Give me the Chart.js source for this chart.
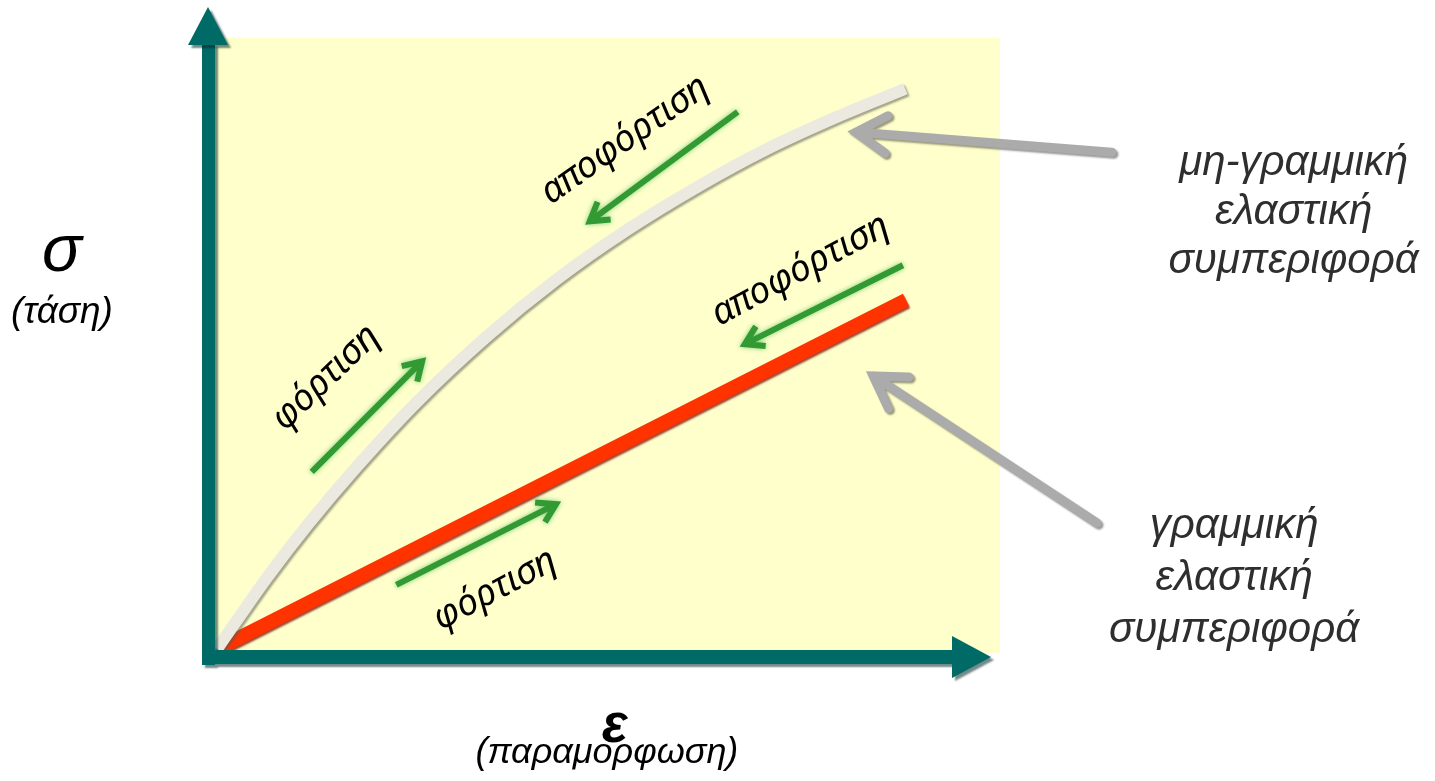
<!DOCTYPE html>
<html><head><meta charset="utf-8">
<script src="https://cdn.jsdelivr.net/npm/chart.js@4.4.1/dist/chart.umd.min.js"></script>
<style>html,body{margin:0;padding:0;background:#fff;overflow:hidden}#wrap{position:relative;width:1435px;height:781px}</style>
</head><body><div id="wrap"><canvas id="c" width="1435" height="781"></canvas></div>
<script>
// ---- data (strain ε vs stress σ, arbitrary units 0..100) ----
const strainNonlinear = [0, 2.6, 6.4, 11.5, 17.9, 25.5, 34.5, 43.4, 52.4, 61.3, 70.2, 79.2, 87.9];
const stressNonlinear = [0, 4.8, 11.7, 20.2, 29.9, 40.4, 51.2, 60.5, 68.6, 75.6, 81.8, 87.1, 91.7];
const strainLinear = [0, 88.0];
const stressLinear = [0, 57.1];
const xRange = [0, 100];
const yRange = [0, 100];
// annotations in data units: [tailX, tailY, tipX, tipY]
const greenArrows = [[12.1, 29.0, 26.2, 47.1], [66.5, 87.9, 47.6, 70.0], [87.6, 62.8, 67.4, 49.9], [22.9, 10.5, 43.3, 23.7]];
const grayArrows = [[114.3, 81.3, 81.6, 84.6], [112.4, 20.6, 83.8, 44.7]];
const curveLabels = ['αποφόρτιση', 'αποφόρτιση', 'φόρτιση', 'φόρτιση'];
const curveLabelPos = [[52.1, 83.3, -35], [74.5, 62.0, -28.5], [13.9, 44.4, -44], [35.5, 9.7, -28]];
const nonlinearLabel = ['μη-γραμμική', 'ελαστική', 'συμπεριφορά'];
const nonlinearLabelPos = [137.5, [79.5, 71.4, 63.5]];
const linearLabel = ['γραμμική', 'ελαστική', 'συμπεριφορά'];
const linearLabelPos = [129.9, [20.0, 11.6, 3.1]];
const yAxisTitle = ['σ', '(τάση)'];
const yAxisTitlePos = [-19.8, [64.8, 55.0]];
const xAxisTitle = ['ε', '(παραμορφωση)'];
const xAxisTitlePos = [49.8, [-12.8, -17.1]];

function drawArrow(ctx, x1, y1, x2, y2, head, spread) {
  const a = Math.atan2(y2 - y1, x2 - x1);
  ctx.beginPath();
  ctx.moveTo(x1, y1); ctx.lineTo(x2, y2);
  ctx.moveTo(x2 - head * Math.cos(a - spread), y2 - head * Math.sin(a - spread));
  ctx.lineTo(x2, y2);
  ctx.lineTo(x2 - head * Math.cos(a + spread), y2 - head * Math.sin(a + spread));
  ctx.stroke();
}

const dsShadow = [
  {c: 'rgba(90,90,80,0.55)', x: 2, y: 2, b: 2},
  {c: 'rgba(120,10,0,0.75)', x: 1, y: 2, b: 2}
];

const deco = {
  id: 'deco',
  beforeDraw(chart) {
    const {ctx, chartArea: a} = chart;
    ctx.save();
    ctx.fillStyle = '#FFFFCC';
    ctx.fillRect(a.left - 7, a.top, a.right - a.left + 7, a.bottom - a.top + 4);
    ctx.restore();
  },
  beforeDatasetDraw(chart, args) {
    const ctx = chart.ctx; ctx.save();
    const s = dsShadow[args.index];
    ctx.shadowColor = s.c; ctx.shadowOffsetX = s.x; ctx.shadowOffsetY = s.y; ctx.shadowBlur = s.b;
  },
  afterDatasetDraw(chart) { chart.ctx.restore(); },
  afterDatasetsDraw(chart) {
    const {ctx, chartArea: a, scales: {x, y}} = chart;
    const L = a.left, B = a.bottom, T = a.top, R = a.right;
    // axes with arrow heads
    ctx.save();
    ctx.shadowColor = 'rgba(0,40,40,0.55)'; ctx.shadowOffsetX = 3; ctx.shadowOffsetY = 3; ctx.shadowBlur = 2;
    ctx.fillStyle = '#006A66';
    ctx.beginPath();
    ctx.rect(L - 15, T + 6, 13, B + 16 - (T + 6));
    ctx.rect(L - 15, B + 1, (R - 48) - (L - 15), 14);
    ctx.fill();
    ctx.beginPath();
    ctx.moveTo(L - 9, T - 31); ctx.lineTo(L + 11, T + 7); ctx.lineTo(L - 29, T + 7); ctx.closePath();
    ctx.fill();
    ctx.beginPath();
    ctx.moveTo(R - 48, B - 13); ctx.lineTo(R - 9, B + 8); ctx.lineTo(R - 48, B + 29); ctx.closePath();
    ctx.fill();
    ctx.restore();

    // green arrows
    ctx.save();
    ctx.strokeStyle = '#339933'; ctx.lineWidth = 6; ctx.lineCap = 'butt'; ctx.lineJoin = 'miter';
    ctx.shadowColor = 'rgba(110,200,110,0.9)'; ctx.shadowBlur = 5;
    greenArrows.forEach(g => drawArrow(ctx, x.getPixelForValue(g[0]), y.getPixelForValue(g[1]), x.getPixelForValue(g[2]), y.getPixelForValue(g[3]), 21, 0.55));
    ctx.restore();

    // gray arrows
    ctx.save();
    ctx.strokeStyle = '#ABABAB'; ctx.lineWidth = 9; ctx.lineCap = 'round'; ctx.lineJoin = 'miter';
    ctx.shadowColor = 'rgba(0,0,0,0.4)'; ctx.shadowOffsetX = 2; ctx.shadowOffsetY = 2; ctx.shadowBlur = 2;
    grayArrows.forEach(g => drawArrow(ctx, x.getPixelForValue(g[0]), y.getPixelForValue(g[1]), x.getPixelForValue(g[2]), y.getPixelForValue(g[3]), 36, 0.55));
    ctx.restore();

    // rotated curve labels
    ctx.save();
    ctx.fillStyle = '#000'; ctx.font = 'italic 37px "Noto Sans"'; ctx.textAlign = 'center'; ctx.textBaseline = 'middle';
    curveLabels.forEach((t, i) => {
      const p = curveLabelPos[i];
      ctx.save();
      ctx.translate(x.getPixelForValue(p[0]), y.getPixelForValue(p[1]));
      ctx.rotate(p[2] * Math.PI / 180);
      ctx.fillText(t, 0, 0);
      ctx.restore();
    });
    ctx.restore();

    // side labels
    ctx.save();
    ctx.textAlign = 'center'; ctx.textBaseline = 'middle';
    ctx.fillStyle = '#2E2E2E'; ctx.font = 'italic 42px "Liberation Sans"';
    nonlinearLabel.forEach((t, i) => ctx.fillText(t, x.getPixelForValue(nonlinearLabelPos[0]), y.getPixelForValue(nonlinearLabelPos[1][i])));
    linearLabel.forEach((t, i) => ctx.fillText(t, x.getPixelForValue(linearLabelPos[0]), y.getPixelForValue(linearLabelPos[1][i])));
    ctx.fillStyle = '#000';
    ctx.font = 'italic 66px "Liberation Sans"';
    ctx.fillText(yAxisTitle[0], x.getPixelForValue(yAxisTitlePos[0]), y.getPixelForValue(yAxisTitlePos[1][0]));
    ctx.font = 'italic 37px "Liberation Sans"';
    ctx.fillText(yAxisTitle[1], x.getPixelForValue(yAxisTitlePos[0]), y.getPixelForValue(yAxisTitlePos[1][1]));
    ctx.font = 'italic 36px "Liberation Sans"';
    ctx.fillText(xAxisTitle[1], x.getPixelForValue(xAxisTitlePos[0]), y.getPixelForValue(xAxisTitlePos[1][1]));
    ctx.font = 'italic bold 54px "Liberation Sans"';
    ctx.fillText(xAxisTitle[0], x.getPixelForValue(xAxisTitlePos[0] + 1.0), y.getPixelForValue(xAxisTitlePos[1][0]));
    ctx.restore();
  }
};

new Chart(document.getElementById('c'), {
  type: 'line',
  data: {
    datasets: [
      {
        label: 'μη-γραμμική ελαστική συμπεριφορά',
        data: strainNonlinear.map((v, i) => ({x: v, y: stressNonlinear[i]})),
        borderColor: '#ECEAE0', borderWidth: 12, pointRadius: 0,
        cubicInterpolationMode: 'monotone', borderCapStyle: 'butt', clip: false
      },
      {
        label: 'γραμμική ελαστική συμπεριφορά',
        data: strainLinear.map((v, i) => ({x: v, y: stressLinear[i]})),
        borderColor: '#FF3300', borderWidth: 14, pointRadius: 0,
        borderCapStyle: 'butt', clip: false
      }
    ]
  },
  options: {
    responsive: false, animation: false, devicePixelRatio: 1,
    layout: {padding: {left: 217, top: 38, right: 435, bottom: 132}},
    plugins: {legend: {display: false}, tooltip: {enabled: false}, title: {display: false}},
    scales: {
      x: {type: 'linear', min: xRange[0], max: xRange[1], display: false},
      y: {type: 'linear', min: yRange[0], max: yRange[1], display: false}
    }
  },
  plugins: [deco]
});
</script></body></html>
